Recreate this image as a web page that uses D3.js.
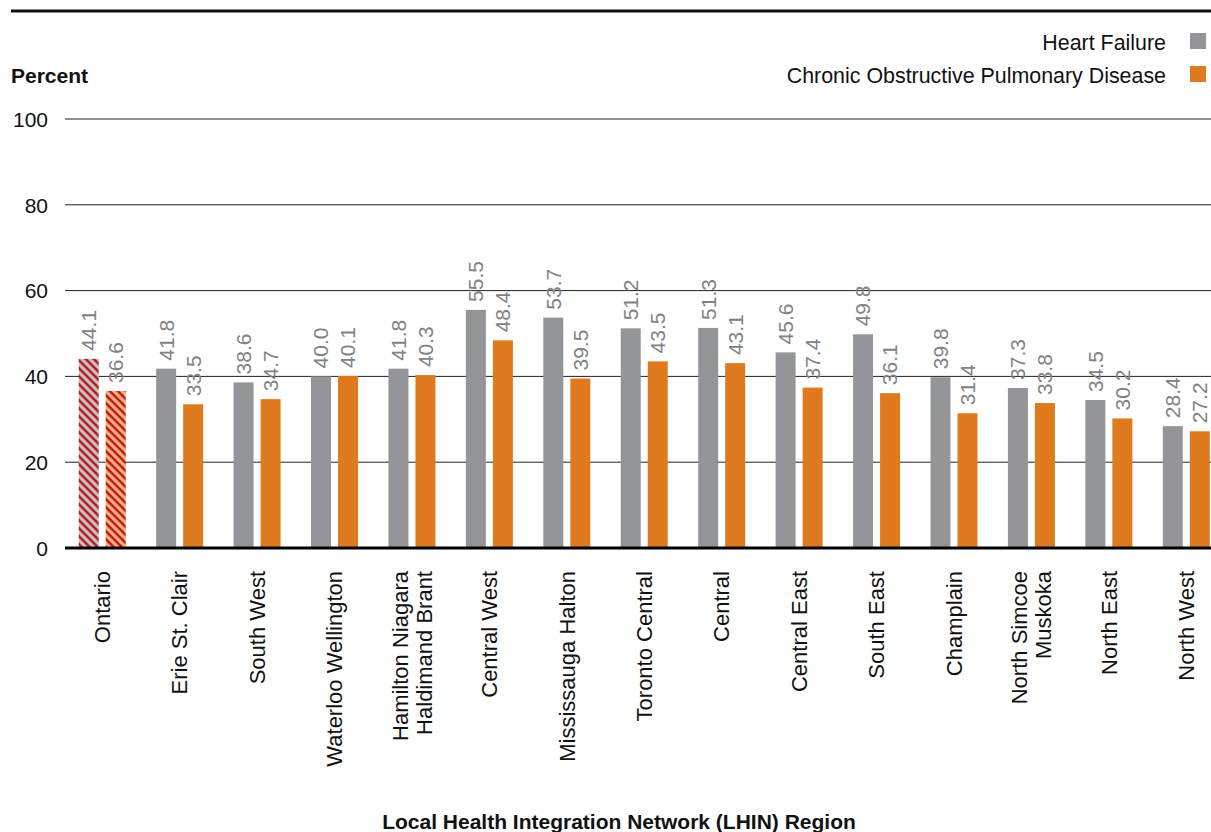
<!DOCTYPE html>
<html><head><meta charset="utf-8">
<script src="https://cdn.jsdelivr.net/npm/d3@7"></script>
<style>
body{margin:0;background:#fff;}
svg text{font-family:"Liberation Sans",Arial,Helvetica,sans-serif;}
</style></head>
<body>
<script>
const categories = ["Ontario","Erie St. Clair","South West","Waterloo Wellington","Hamilton Niagara\nHaldimand Brant","Central West","Mississauga Halton","Toronto Central","Central","Central East","South East","Champlain","North Simcoe\nMuskoka","North East","North West"];
const heartFailure = [44.1,41.8,38.6,40.0,41.8,55.5,53.7,51.2,51.3,45.6,49.8,39.8,37.3,34.5,28.4];
const copd = [36.6,33.5,34.7,40.1,40.3,48.4,39.5,43.5,43.1,37.4,36.1,31.4,33.8,30.2,27.2];
const seriesNames = ["Heart Failure","Chronic Obstructive Pulmonary Disease"];
const yTicks = [0,20,40,60,80,100];

const W=1211,H=832,FS=21;
const svg=d3.select("body").append("svg").attr("width",W).attr("height",H);
const defs=svg.append("defs");
function hatch(id,bg){
  const p=defs.append("pattern").attr("id",id).attr("patternUnits","userSpaceOnUse").attr("width",8).attr("height",8);
  p.append("rect").attr("width",8).attr("height",8).attr("fill",bg);
  p.append("path").attr("d","M-1,-1 L9,9 M-1,7 L1,9 M7,-1 L9,1").attr("stroke","#c0161c").attr("stroke-width",2.6);
}
hatch("hatchGray","#c3c3c5");
hatch("hatchOrange","#f6b67c");

const colors=["#939598","#df7b1e"];
const y=d3.scaleLinear().domain([0,100]).range([548,119]);
const x=d3.scaleBand().domain(categories).range([63.5,1225]).paddingInner(0).paddingOuter(0);
const x1=d3.scaleBand().domain([0,1]).range([0,47]).paddingInner(0.26).paddingOuter(0);

// top rule
svg.append("line").attr("x1",11).attr("x2",W).attr("y1",11).attr("y2",11).attr("stroke","#111").attr("stroke-width",3);

// grid
const yAxis=d3.axisLeft(y).tickValues(yTicks).tickSize(0).tickPadding(0);
const gy=svg.append("g").attr("transform","translate(48,0)").call(yAxis);
gy.select(".domain").remove();
gy.selectAll("text").attr("font-size",FS).attr("fill","#111").attr("dy","0.35em").attr("font-family",null);
svg.append("g").selectAll("line").data(yTicks.filter(d=>d>0)).join("line")
  .attr("x1",65).attr("x2",W).attr("y1",d=>y(d)).attr("y2",d=>y(d)).attr("stroke","#222").attr("stroke-width",1);

// bars
const data=categories.map((c,i)=>({c,vals:[heartFailure[i],copd[i]],i}));
const groups=svg.append("g").selectAll("g").data(data).join("g")
  .attr("transform",d=>`translate(${x(d.c)+x.bandwidth()/2-23.5},0)`);
groups.selectAll("rect").data(d=>d.vals.map((v,k)=>({v,k,i:d.i}))).join("rect")
  .attr("x",d=>x1(d.k)).attr("width",x1.bandwidth())
  .attr("y",d=>y(d.v)).attr("height",d=>y(0)-y(d.v))
  .attr("fill",d=>d.i===0?(d.k===0?"url(#hatchGray)":"url(#hatchOrange)"):colors[d.k]);
groups.selectAll("text.val").data(d=>d.vals.map((v,k)=>({v,k}))).join("text").attr("class","val")
  .attr("transform",d=>`translate(${x1(d.k)+x1.bandwidth()/2},${y(d.v)-8}) rotate(-90)`)
  .attr("dy","0.35em").attr("font-size",FS).attr("fill","#808285")
  .text(d=>d.v.toFixed(1));

// baseline
svg.append("line").attr("x1",65).attr("x2",W).attr("y1",y(0)).attr("y2",y(0)).attr("stroke","#000").attr("stroke-width",3);

// category labels
const cl=svg.append("g").selectAll("text").data(categories).join("text")
  .attr("transform",d=>`translate(${x(d)+x.bandwidth()/2},571) rotate(-90)`)
  .attr("text-anchor","end").attr("font-size",22).attr("fill","#111");
cl.each(function(d){
  const lines=d.split("\n");
  const t=d3.select(this);
  lines.forEach((l,j)=>{
    t.append("tspan").attr("x",0).attr("dy",j===0?`${0.35-(lines.length-1)*0.55}em`:"1.1em").text(l);
  });
});

// axis labels
svg.append("text").attr("x",11).attr("y",83).attr("font-size",FS).attr("font-weight","bold").attr("fill","#111").text("Percent");
svg.append("text").attr("x",619).attr("y",829).attr("text-anchor","middle").attr("font-size",FS).attr("font-weight","bold").attr("fill","#111").text("Local Health Integration Network (LHIN) Region");

// legend
const leg=svg.append("g").selectAll("g").data(seriesNames).join("g")
  .attr("transform",(d,i)=>`translate(0,${42+i*33})`);
leg.append("text").attr("x",1166).attr("text-anchor","end").attr("dy","0.35em").attr("font-size",21.4).attr("fill","#111").text(d=>d);
leg.append("rect").attr("x",1190).attr("y",-9).attr("width",16).attr("height",16).attr("fill",(d,i)=>colors[i]);
</script>
</body></html>
